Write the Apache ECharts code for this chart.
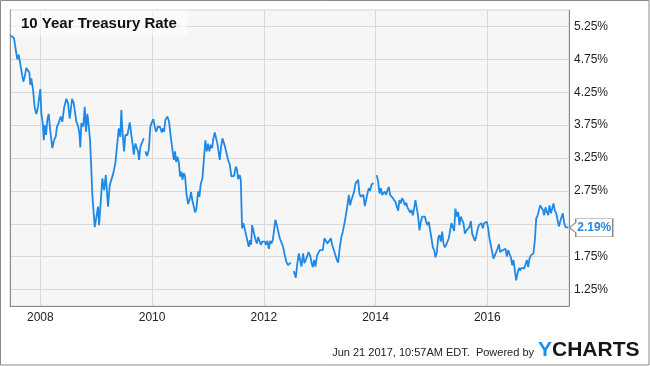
<!DOCTYPE html>
<html>
<head>
<meta charset="utf-8">
<script src="https://cdn.jsdelivr.net/npm/echarts@6/dist/echarts.min.js"></script>
<style>
html,body{margin:0;padding:0;background:#fff;}
#chart{width:650px;height:366px;}
</style>
</head>
<body>
<div id="chart"></div>
<script>
// ---- Data (decimal years, 10-year treasury rate in %) ----
const years = [
2007.457,2007.470,2007.529,2007.570,2007.588,2007.613,2007.649,2007.696,2007.721,2007.749,2007.780,2007.803,2007.821,2007.839,2007.869,2007.900,2007.928,2007.959,2007.982,
2008.000,2008.018,2008.043,2008.061,2008.079,2008.102,2008.125,2008.150,2008.179,2008.215,2008.245,2008.276,2008.299,2008.329,2008.365,2008.394,2008.424,2008.466,2008.496,2008.526,2008.568,2008.598,2008.645,2008.675,2008.698,2008.716,2008.734,2008.770,2008.795,2008.818,2008.842,2008.867,2008.890,2008.913,2008.931,2008.949,2008.974,
2009.003,2009.033,2009.051,2009.081,2009.110,2009.141,2009.171,2009.194,2009.212,2009.243,2009.271,2009.307,2009.343,2009.373,2009.404,2009.432,2009.450,2009.468,2009.499,2009.522,2009.558,2009.601,2009.629,2009.654,2009.672,2009.701,2009.726,2009.749,2009.767,2009.791,2009.821,2009.851,2009.866,2009.880,2009.910,2009.941,2009.970,
2010.000,2010.023,2010.048,2010.072,2010.107,2010.143,2010.174,2010.197,2010.215,2010.238,2010.274,2010.304,2010.335,2010.358,2010.389,2010.412,2010.430,2010.453,2010.478,2010.501,2010.525,2010.543,2010.568,2010.591,2010.614,2010.645,2010.668,2010.698,2010.722,2010.747,2010.770,2010.793,2010.824,2010.847,2010.872,2010.901,2010.931,2010.954,2010.979,
2011.003,2011.026,2011.051,2011.074,2011.098,2011.123,2011.146,2011.169,2011.194,2011.212,2011.235,2011.259,2011.289,2011.312,2011.338,2011.361,2011.391,2011.420,2011.468,2011.499,2011.522,2011.540,2011.570,2011.588,2011.611,2011.635,2011.660,2011.683,2011.706,2011.731,2011.755,2011.773,2011.791,2011.821,2011.850,2011.875,2011.898,2011.921,2011.946,2011.970,2011.993,
2012.018,2012.041,2012.064,2012.090,2012.113,2012.136,2012.161,2012.184,2012.208,2012.233,2012.256,2012.286,2012.315,2012.345,2012.376,2012.405,2012.435,2012.458,2012.483,2012.510,2012.537,2012.555,2012.573,2012.596,2012.627,2012.650,2012.673,2012.704,2012.727,2012.752,2012.775,2012.799,2012.829,2012.852,2012.877,2012.901,2012.924,2012.954,2012.978,
2013.003,2013.031,2013.056,2013.085,2013.115,2013.139,2013.169,2013.200,2013.223,2013.253,2013.282,2013.307,2013.330,2013.361,2013.389,2013.414,2013.432,2013.450,2013.474,2013.497,2013.522,2013.545,2013.568,2013.594,2013.617,2013.640,2013.665,2013.688,2013.712,2013.737,2013.760,2013.783,2013.808,2013.831,2013.855,2013.880,2013.903,2013.927,2013.962,2013.992,
2014.023,2014.047,2014.070,2014.095,2014.118,2014.141,2014.166,2014.190,2014.213,2014.238,2014.261,2014.285,2014.310,2014.333,2014.356,2014.381,2014.405,2014.428,2014.453,2014.476,2014.500,2014.525,2014.548,2014.571,2014.596,2014.620,2014.643,2014.668,2014.691,2014.714,2014.740,2014.763,2014.786,2014.811,2014.835,2014.858,2014.883,2014.906,2014.929,2014.954,2014.978,
2015.001,2015.026,2015.049,2015.073,2015.098,2015.121,2015.144,2015.169,2015.193,2015.216,2015.241,2015.264,2015.287,2015.312,2015.336,2015.359,2015.389,2015.407,2015.430,2015.456,2015.479,2015.502,2015.527,2015.550,2015.574,2015.599,2015.628,2015.658,2015.681,2015.706,2015.730,2015.753,2015.778,2015.801,2015.824,2015.850,2015.873,2015.896,2015.921,2015.944,2015.968,2015.993,
2016.016,2016.039,2016.064,2016.088,2016.111,2016.136,2016.159,2016.183,2016.208,2016.231,2016.254,2016.279,2016.303,2016.326,2016.351,2016.374,2016.397,2016.422,2016.446,2016.469,2016.494,2016.517,2016.541,2016.566,2016.589,2016.612,2016.637,2016.661,2016.684,2016.709,2016.732,2016.756,2016.781,2016.804,2016.827,2016.852,2016.876,2016.899,2016.924,2016.947,2016.971,2016.996,
2017.019,2017.042,2017.067,2017.091,2017.114,2017.139,2017.162,2017.185,2017.210,2017.234,2017.257,2017.282,2017.305,2017.328,2017.353,2017.377,2017.400,2017.425,2017.449
];
const rates = [
5.13,5.12,5.07,4.84,4.75,4.82,4.64,4.41,4.49,4.62,4.64,4.55,4.36,4.46,4.29,4.01,3.92,4.03,4.06,
4.30,3.93,3.78,3.52,3.75,3.60,3.83,3.92,3.65,3.40,3.52,3.58,3.73,3.78,3.88,3.80,4.01,4.15,4.08,3.85,4.15,4.08,3.80,3.74,3.63,3.41,3.78,3.73,4.03,3.65,3.92,3.73,3.52,3.07,2.69,2.66,2.20,
2.23,2.51,2.23,2.58,2.94,2.76,2.99,2.97,2.51,2.84,2.81,3.02,3.17,3.14,3.70,3.57,3.98,3.68,3.35,3.60,3.60,3.79,3.60,3.45,3.30,3.47,3.45,3.35,3.22,3.42,3.43,3.55,null,3.35,3.28,3.37,3.73,
3.80,3.84,3.73,3.65,3.73,3.72,3.64,3.70,3.65,3.83,3.88,3.80,3.57,3.55,3.22,3.35,3.19,3.27,3.19,2.97,3.04,2.92,3.02,2.97,2.71,2.55,2.61,2.73,2.60,2.51,2.42,2.48,2.74,2.66,2.86,2.94,2.97,3.52,3.35,
3.47,3.35,3.45,3.40,3.55,3.64,3.55,3.47,3.48,3.22,3.42,3.55,3.47,3.40,3.37,3.22,3.15,2.97,2.98,3.12,3.07,2.93,2.99,2.92,2.18,2.26,2.28,2.08,2.05,1.90,2.00,1.93,2.23,2.20,2.01,1.95,2.05,2.08,1.93,1.98,1.95,
1.98,1.93,1.99,1.87,1.99,1.95,2.00,1.99,2.31,2.23,2.26,2.03,2.00,1.90,1.77,1.67,1.62,1.65,1.66,null,1.53,1.54,1.43,1.62,1.80,1.70,1.60,1.80,1.65,1.67,1.75,1.82,1.77,1.67,1.59,1.70,1.60,1.77,1.80,
1.85,1.87,1.85,2.03,2.05,1.95,1.93,2.03,1.93,1.85,1.82,1.70,1.66,1.90,2.05,2.13,2.11,2.28,2.41,2.53,2.69,2.53,2.61,2.60,2.74,2.86,2.84,2.92,2.71,2.66,2.64,2.69,2.52,2.61,2.71,2.79,2.75,2.84,2.87,null,
2.99,2.89,2.71,2.79,2.69,2.72,2.74,2.69,2.76,2.81,2.69,2.70,2.64,2.66,2.58,2.56,2.45,2.61,2.56,2.64,2.60,2.53,2.57,2.50,2.53,2.42,2.46,2.38,2.48,2.61,2.48,2.36,2.15,2.28,2.36,2.37,2.36,2.28,2.23,2.28,2.15,
2.03,1.89,1.85,1.74,1.82,2.03,2.08,1.98,2.13,1.95,1.89,1.93,1.90,2.03,2.15,2.26,2.26,2.14,2.48,2.36,2.43,2.23,2.36,2.31,2.26,2.10,2.15,2.18,2.20,2.29,2.10,2.08,1.99,2.05,2.15,2.23,2.20,2.26,2.18,2.26,2.29,2.28,
2.18,2.03,2.00,1.82,1.72,1.77,1.77,1.87,1.94,1.82,1.80,1.85,1.82,1.87,1.75,1.85,1.87,1.74,1.62,1.70,1.54,1.39,1.49,1.58,1.54,1.58,1.55,1.57,1.58,1.70,1.59,1.72,1.77,1.79,1.80,2.00,2.33,2.37,2.37,2.53,2.52,2.46,
2.38,2.50,2.43,2.38,2.53,2.41,2.48,2.56,2.45,2.41,2.31,2.21,2.28,2.35,2.41,2.26,2.20,2.23,2.19
];
const xTickYears = [2008, 2010, 2012, 2014, 2016];
const yGridValues = [1.25, 1.75, 2.25, 2.75, 3.25, 3.75, 4.25, 4.75, 5.25];
const yLabelValues = [1.25, 1.75, 2.75, 3.25, 3.75, 4.25, 4.75, 5.25];
const titleText = '10 Year Treasury Rate';
const footerText = 'Jun 21 2017, 10:57AM EDT.  Powered by';

const seriesData = years.map((y, i) => [y, rates[i]]);
const lastIdx = rates.length - 1;
const lastPoint = [years[lastIdx], rates[lastIdx]];

const BLUE = '#1f8ae6';
const FONT = '"Liberation Sans", Arial, sans-serif';

const chart = echarts.init(document.getElementById('chart'), null, {renderer: 'canvas'});
chart.setOption({
  animation: false,
  backgroundColor: '#ffffff',
  grid: {
    left: 10, right: 81, top: 10, bottom: 60,
    show: true, backgroundColor: '#f6f6f6', borderColor: '#d4d4d4', borderWidth: 1
  },
  xAxis: {
    type: 'value',
    min: 2007.457,
    max: 2017.463,
    axisLine: {show: true, onZero: false, lineStyle: {color: '#888', width: 1}},
    axisTick: {show: false, customValues: xTickYears},
    axisLabel: {
      customValues: xTickYears,
      formatter: v => String(v),
      color: '#222', fontFamily: FONT, fontSize: 12, margin: 6
    },
    splitLine: {show: true, lineStyle: {color: '#d8d8d8', width: 1}}
  },
  yAxis: [{
    type: 'value',
    position: 'right',
    min: 1.0, max: 5.5,
    axisLine: {show: true, lineStyle: {color: '#888', width: 1}},
    axisTick: {show: false, customValues: yGridValues},
    axisLabel: {
      customValues: yLabelValues,
      formatter: v => v.toFixed(2) + '%',
      color: '#222', fontFamily: FONT, fontSize: 12, margin: 5
    },
    splitLine: {show: true, lineStyle: {color: '#d8d8d8', width: 1}}
  }, {
    type: 'value',
    position: 'left',
    min: 1.0, max: 5.5,
    axisLine: {show: true, lineStyle: {color: '#888', width: 1}},
    axisTick: {show: false},
    axisLabel: {show: false},
    splitLine: {show: false}
  }],
  series: [{
    type: 'line',
    yAxisIndex: 0,
    data: seriesData,
    showSymbol: false,
    connectNulls: false,
    lineStyle: {color: BLUE, width: 1.8},
    itemStyle: {color: BLUE},
    markPoint: {
      silent: true,
      symbol: 'path://M0,9 L6,4 L6,0 L43,0 L43,18 L6,18 L6,14 Z',
      symbolSize: [43, 18],
      symbolOffset: [23, 0],
      symbolKeepAspect: false,
      itemStyle: {color: '#ffffff', borderColor: '#8a8a8a', borderWidth: 1},
      label: {
        show: true, position: 'inside', offset: [3, 0],
        formatter: () => rates[lastIdx].toFixed(2) + '%',
        color: BLUE, fontWeight: 'bold', fontSize: 12, fontFamily: FONT
      },
      data: [{coord: lastPoint}]
    }
  }],
  graphic: [
    {type: 'rect', z: 50, shape: {x: 10.5, y: 10.5, width: 177, height: 25},
     style: {fill: 'rgba(255,255,255,0.55)'}},
    {type: 'text', z: 51, x: 21, y: 24,
     style: {text: titleText, font: 'bold 15px ' + FONT, fill: '#111', textVerticalAlign: 'middle'}},
    {type: 'text', z: 51, x: 534, y: 353,
     style: {text: footerText, font: '11px ' + FONT, fill: '#222', textAlign: 'right', textVerticalAlign: 'middle'}},
    {type: 'text', z: 51, x: 538, y: 350,
     style: {
       text: '{y|Y}{c|CHARTS}', textVerticalAlign: 'middle',
       rich: {
         y: {font: 'bold 21px ' + FONT, fill: '#1e8fe6'},
         c: {font: 'bold 21px ' + FONT, fill: '#161616'}
       }
     }},
    {type: 'rect', z: 60, shape: {x: 0.5, y: 0.5, width: 648.5, height: 364.5},
     style: {fill: 'none', stroke: '#8a8a8a', lineWidth: 1}}
  ]
});
</script>
</body>
</html>
